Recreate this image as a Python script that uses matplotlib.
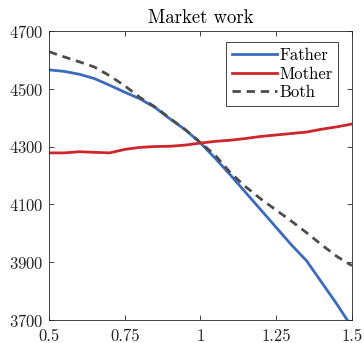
import numpy as np
import matplotlib
matplotlib.use("Agg")
import matplotlib.pyplot as plt

plt.rcParams['font.family'] = 'serif'
plt.rcParams['font.serif'] = ['cmr10']
plt.rcParams['mathtext.fontset'] = 'cm'
plt.rcParams['axes.formatter.use_mathtext'] = True

# price ratio grid and hours of market work
x = np.round(np.arange(0.5, 1.5001, 0.05), 2)
father = [4565, 4560, 4550, 4535, 4512, 4488, 4465, 4435, 4395, 4358, 4312,
          4258, 4200, 4140, 4080, 4020, 3960, 3905, 3830, 3755, 3675]
mother = [4278, 4278, 4282, 4280, 4278, 4290, 4297, 4300, 4301, 4305, 4312,
          4318, 4322, 4328, 4335, 4340, 4345, 4350, 4360, 4368, 4378]
both = [4628, 4610, 4593, 4575, 4545, 4510, 4470, 4437, 4397, 4358, 4314,
        4268, 4208, 4160, 4118, 4080, 4042, 4002, 3960, 3920, 3888]

xticks = [0.5, 0.75, 1, 1.25, 1.5]
xticklabels = ['0.5', '0.75', '1', '1.25', '1.5']
yticks = [3700, 3900, 4100, 4300, 4500, 4700]

fig = plt.figure(figsize=(3.64, 3.43), dpi=100)
ax = fig.add_axes([0.1346, 0.067, 0.8324, 0.843])

ax.plot(x, father, color='#3a6bbf', lw=2.0, label='Father')
ax.plot(x, mother, color='#d0262b', lw=2.0, label='Mother')
ax.plot(x, both, color='#4d4d4d', lw=2.0, ls=(0, (3.0, 2.1)), label='Both')

ax.set_xlim(0.5, 1.5)
ax.set_ylim(3700, 4700)
ax.set_xticks(xticks)
ax.set_xticklabels(xticklabels)
ax.set_yticks(yticks)
ax.tick_params(direction='in', top=True, right=True, length=3.5,
               width=0.6, colors='#262626', labelsize=12)
ax.tick_params(axis='x', pad=6.5)
ax.tick_params(axis='y', pad=4)
for s in ax.spines.values():
    s.set_color('#262626')
    s.set_linewidth(0.6)

ax.set_title('Market work', fontsize=13.5, pad=6)
leg = ax.legend(loc='upper right', fontsize=12, handlelength=2.7,
                handletextpad=0.15, borderpad=0.35, labelspacing=0.2,
                borderaxespad=0, fancybox=False, edgecolor='#262626',
                framealpha=1, bbox_to_anchor=(0.955, 0.962))
leg.get_frame().set_linewidth(0.6)

fig.savefig('out.png', dpi=100)
